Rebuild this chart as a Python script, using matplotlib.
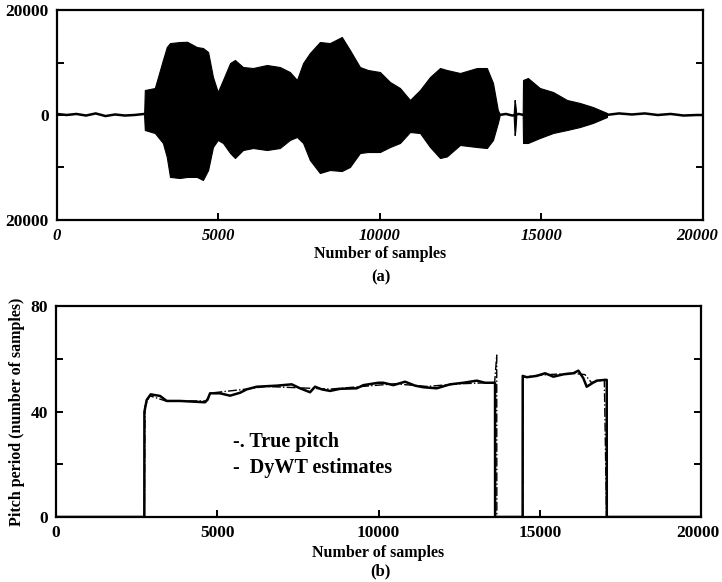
import matplotlib
matplotlib.use("Agg")
from matplotlib import pyplot as plt
from matplotlib.transforms import ScaledTranslation

plt.rcParams["font.family"] = ["Liberation Serif", "DejaVu Serif"]
plt.rcParams["font.weight"] = "bold"

# (a) speech signal: low-level noise line and envelopes of the voiced parts
quiet_x = [0, 300, 600, 900, 1200, 1500, 1800, 2100, 2400, 2700,
           13700, 13900, 14100, 14300, 14450,
           17000, 17400, 17800, 18200, 18600, 19000, 19400, 19800, 20000]
quiet_y = [200, 0, 200, -100, 300, -200, 100, -100, 0, 200,
           0, 200, -100, 200, 0,
           0, 300, 100, 300, 0, 200, -100, 0, 0]

burst1_x = [2700, 2720, 3030, 3280, 3400, 3500, 3800, 4030, 4330, 4520,
            4680, 4830, 4980, 5140, 5360, 5510, 5760, 6070, 6500, 6900,
            7210, 7430, 7620, 7830, 8140, 8450, 8820, 9070, 9380, 9630,
            10000, 10310, 10620, 10930, 11240, 11550, 11860, 12070, 12480, 13000,
            13310, 13500, 13650, 13700]
burst1_hi = [300, 4760, 5140, 10480, 12950, 13700, 13900, 13950, 12950, 12760,
             12000, 7240, 4380, 6670, 9900, 10480, 9140, 8950, 9525, 9140,
             8190, 6670, 9900, 11800, 13900, 13700, 14860, 12380, 9140, 8570,
             8190, 6290, 5140, 2860, 4760, 7240, 8950, 8570, 8000, 8950,
             8950, 6100, 950, 300]
burst1_lo = [-300, -2860, -3430, -5330, -8000, -11800, -12000, -11800, -11800, -12380,
             -10480, -6100, -4760, -5330, -7240, -8190, -6670, -6290, -6670, -6290,
             -4760, -4190, -5330, -8570, -11050, -10480, -10670, -9900, -7240, -7050,
             -7050, -6100, -5330, -3240, -3430, -6100, -8190, -7900, -5710, -6100,
             -6290, -4760, -1520, -300]

click_x = [14140, 14170, 14190, 14220]
click_hi = [300, 2860, 2000, 300]
click_lo = [-300, -3810, -3000, -300]

burst2_x = [14420, 14430, 14580, 14950, 15360, 15790, 16190, 16590, 17030]
burst2_hi = [300, 6670, 7050, 5140, 4380, 2860, 2290, 1520, 380]
burst2_lo = [-300, -5330, -5330, -4380, -3430, -2860, -2290, -1520, -380]

# (b) pitch period contours
est_x = [0, 2738, 2740, 2812, 2936, 3225, 3432, 3845, 4620, 4700,
         4775, 5085, 5395, 5705, 5913, 6223, 6843, 7308, 7566, 7876,
         8031, 8238, 8496, 8806, 9323, 9530, 9995, 10150, 10460, 10822,
         11132, 11390, 11804, 12217, 12630, 13044, 13302, 13612, 13614, 14468,
         14470, 14594, 14904, 15163, 15421, 15731, 16041, 16196, 16351, 16454,
         16609, 16764, 17023, 17075, 17077, 20000]
est_y = [0, 0, 39.9, 44.4, 46.5, 45.9, 44.0, 44.0, 43.5, 44.5,
         46.9, 46.9, 46.0, 47.1, 48.4, 49.4, 49.8, 50.3, 48.8, 47.3,
         49.4, 48.4, 47.8, 48.6, 48.8, 50.0, 50.9, 50.9, 50.0, 51.3,
         49.8, 49.2, 48.8, 50.3, 50.9, 51.7, 50.9, 50.9, 0, 0,
         53.5, 53.0, 53.5, 54.5, 53.2, 54.1, 54.5, 55.5, 52.6, 49.4,
         50.6, 51.7, 52.0, 52.0, 0, 0]

true_x = [2738, 2760, 2900, 3400, 4650, 4800, 5900, 6500, 7500, 8500,
          9500, 10500, 11500, 12500, 13600, 13664, 13668, 14470, 14480, 15000,
          16000, 16400, 16600, 17000, 17070]
true_y = [0, 42, 46, 44, 44, 47, 48.5, 49.5, 49, 48.5,
          49.5, 50.5, 49.5, 50.5, 51, 61.4, 0, 0, 53, 53.8,
          54.5, 54, 51, 52, 0]

x_ticks = [0, 5000, 10000, 15000, 20000]
x_labels = ["0", "5000", "10000", "15000", "20000"]
wave_ticks = [-20000, -10000, 0, 10000, 20000]
wave_labels = ["20000", "", "0", "", "20000"]
pitch_ticks = [0, 20, 40, 60, 80]
pitch_labels = ["0", "", "40", "", "80"]


def style_axes(ax):
    for sp in ax.spines.values():
        sp.set_linewidth(1.6)
    ax.tick_params(direction="in", length=5, width=1.4, right=True,
                   labelsize=12.5, pad=6)


def nudge_last_xlabel(ax, dx_pt):
    lab = ax.get_xticklabels()[-1]
    lab.set_transform(lab.get_transform()
                      + ScaledTranslation(dx_pt / 72, 0, ax.figure.dpi_scale_trans))


fig = plt.figure(figsize=(7.22, 5.82), dpi=100)

ax1 = fig.add_axes([0.0789, 0.622, 0.8947, 0.3608])
ax1.plot(quiet_x, quiet_y, color="black", lw=1.8)
for xs, hi, lo in [(burst1_x, burst1_hi, burst1_lo),
                   (click_x, click_hi, click_lo),
                   (burst2_x, burst2_hi, burst2_lo)]:
    ax1.fill_between(xs, lo, hi, color="black", lw=0.8, edgecolor="black")
ax1.set_xlim(0, 20000)
ax1.set_ylim(-20000, 20000)
ax1.set_xticks(x_ticks)
ax1.set_xticklabels(x_labels, fontstyle="italic", fontsize=12)
ax1.set_yticks(wave_ticks)
ax1.set_yticklabels(wave_labels)
style_axes(ax1)
ax1.tick_params(axis="x", labelsize=12)
nudge_last_xlabel(ax1, -4)
ax1.set_xlabel("Number of samples", fontsize=11.5, fontweight="bold", labelpad=1)
fig.text(0.527, 1 - 277 / 582, "(a)", ha="center", va="center", fontsize=12)

ax2 = fig.add_axes([0.0776, 0.1117, 0.8934, 0.3625])
ax2.plot(true_x, true_y, color="black", lw=1.0, ls="-.")
ax2.plot(est_x, est_y, color="black", lw=1.8)
ax2.set_xlim(0, 20000)
ax2.set_ylim(0, 80)
ax2.set_xticks(x_ticks)
ax2.set_xticklabels(x_labels)
ax2.set_yticks(pitch_ticks)
ax2.set_yticklabels(pitch_labels)
style_axes(ax2)
nudge_last_xlabel(ax2, -2)
ax2.set_xlabel("Number of samples", fontsize=11.5, fontweight="bold", labelpad=3)
ax2.set_ylabel("Pitch period (number of samples)", fontsize=11.5,
               fontweight="bold", labelpad=4)
fig.text(0.527, 1 - 571 / 582, "(b)", ha="center", va="center", fontsize=12)

ax2.text(0.274, 0.355, "-. True pitch", transform=ax2.transAxes,
         fontsize=14.5, fontweight="bold", va="center")
ax2.text(0.274, 0.23, "-  DyWT estimates", transform=ax2.transAxes,
         fontsize=14.5, fontweight="bold", va="center")

fig.savefig("out.png", dpi=100)
